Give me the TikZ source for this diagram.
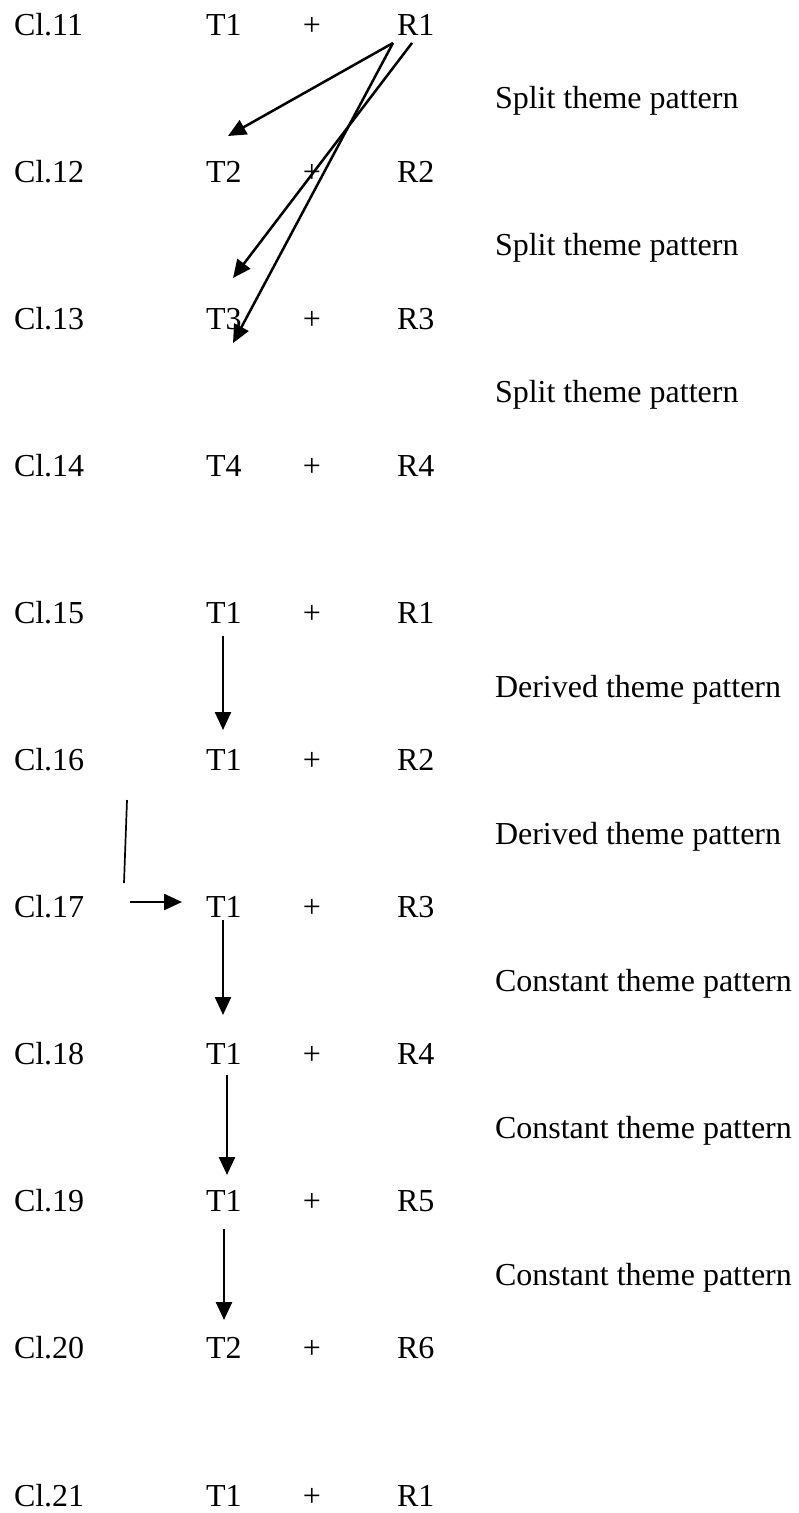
\documentclass[tikz,border=0pt]{standalone}
\usepackage{fontspec}
\setmainfont{Liberation Serif}
\usetikzlibrary{arrows.meta}
\begin{document}
\begin{tikzpicture}[x=1pt,y=-1pt,
  txt/.style={font=\fontsize{32}{38}\selectfont, inner sep=0pt, outer sep=0pt},
  leftxt/.style={txt, anchor=base west},
  plussign/.style={txt, anchor=base},
  arr/.style={line width=2.5pt, -{Triangle[width=16pt,length=18pt]}},
  plain/.style={line width=1.7pt}]
\useasboundingbox (0,0) rectangle (799,1513);

% clause rows: Cl.n   theme  +  rheme
\foreach \c/\t/\r [count=\i from 0] in {11/T1/R1, 12/T2/R2, 13/T3/R3, 14/T4/R4,
    15/T1/R1, 16/T1/R2, 17/T1/R3, 18/T1/R4, 19/T1/R5, 20/T2/R6, 21/T1/R1} {
  \pgfmathsetmacro\yy{35+147.1*\i}
  \node[leftxt] (cl\c) at (14,\yy) {Cl.\c};
  \node[leftxt] (t\c) at (206,\yy) {\t};
  \node[plussign] (p\c) at (312,\yy) {+};
  \node[leftxt] (r\c) at (397,\yy) {\r};
}

% pattern labels between rows
\node[leftxt] (lab1) at (495,108.5) {Split theme pattern};
\node[leftxt] (lab2) at (495,255.6) {Split theme pattern};
\node[leftxt] (lab3) at (495,402.7) {Split theme pattern};
\node[leftxt] (lab4) at (495,697.0) {Derived theme pattern};
\node[leftxt] (lab5) at (495,844.0) {Derived theme pattern};
\node[leftxt] (lab6) at (495,991.1) {Constant theme pattern};
\node[leftxt] (lab7) at (495,1138.2) {Constant theme pattern};
\node[leftxt] (lab8) at (495,1285.3) {Constant theme pattern};

% split theme arrows from R1
\coordinate (sa) at (393,43);
\coordinate (sb) at (412,43);
\coordinate (ea) at (228,136);
\coordinate (eb) at (233,278);
\coordinate (ec) at (233,343);
\draw[arr] (sa) -- (ea);
\draw[arr] (sb) -- (eb);
\draw[arr] (sa) -- (ec);

% theme continuation arrows
\coordinate (v1s) at (223,636);  \coordinate (v1e) at (223,730);
\coordinate (v2s) at (223,920);  \coordinate (v2e) at (223,1015);
\coordinate (v3s) at (227,1075); \coordinate (v3e) at (227,1175);
\coordinate (v4s) at (224,1229); \coordinate (v4e) at (224,1320);
\draw[arr] (v1s) -- (v1e);
\draw[arr] (v2s) -- (v2e);
\draw[arr] (v3s) -- (v3e);
\draw[arr] (v4s) -- (v4e);

% side stroke and arrow into Cl.17
\coordinate (ls) at (127,800);
\coordinate (le) at (124,883);
\draw[plain] (ls) -- (le);
\coordinate (hs) at (130,902);
\coordinate (he) at (182,902);
\draw[arr] (hs) -- (he);
\end{tikzpicture}
\end{document}
